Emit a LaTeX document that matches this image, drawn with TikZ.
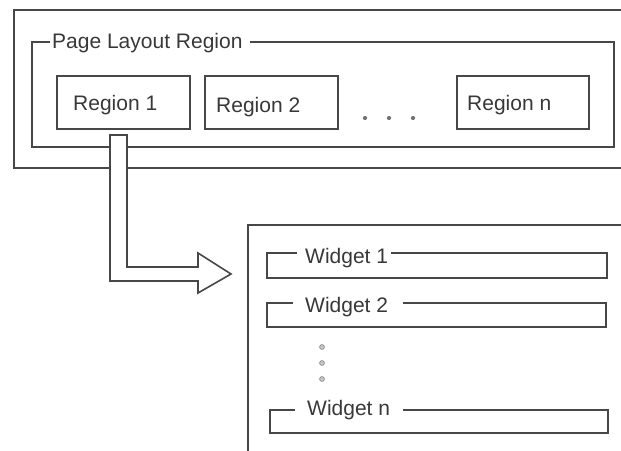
\documentclass[tikz,border=0pt]{standalone}
\usepackage{fontspec}
\setmainfont{Liberation Sans}
\begin{document}
\begin{tikzpicture}[x=1pt,y=-1pt,
  frameline/.style={draw=black!72,line width=1.6pt,line join=miter},
  regionbox/.style={frameline,rectangle,minimum width=133pt,minimum height=53pt,inner sep=0pt},
  lbl/.style={anchor=base west,inner sep=0pt,text=black!78,font=\fontsize{21}{25}\selectfont},
  hdot/.style={circle,fill=black!55,inner sep=0pt,minimum size=4.2pt},
  vdot/.style={circle,draw=black!45,fill=black!22,line width=0.7pt,inner sep=0pt,minimum size=4.8pt}]
\useasboundingbox (0,0) rectangle (621,450);

% outer window
\draw[frameline] (630,10) -- (14,10) -- (14,168) -- (630,168);

% page layout fieldset
\draw[frameline] (50,42) -- (32,42) -- (32,147) -- (614,147) -- (614,42) -- (250,42);
\node[lbl] (plr) at (52,48) {Page Layout Region};

% regions
\node[regionbox] (r1) at (123.5,102.5) {};
\node[regionbox] (r2) at (271.5,102.5) {};
\node[regionbox,minimum width=132pt] (rn) at (523,102.5) {};
\node[lbl] (r1t) at (73,110) {Region 1};
\node[lbl] (r2t) at (216,112) {Region 2};
\node[lbl] (rnt) at (467,110) {Region n};
\node[hdot] (hd1) at (365,118) {};
\node[hdot] (hd2) at (389,118) {};
\node[hdot] (hd3) at (413,118) {};

% widget panel
\draw[frameline] (630,225) -- (248,225) -- (248,460);

% widget fieldsets
\draw[frameline] (297,253) -- (267,253) -- (267,278) -- (607,278) -- (607,253) -- (391,253);
\node[lbl] (w1) at (305,263) {Widget 1};
\draw[frameline] (293,303) -- (267,303) -- (267,327) -- (606,327) -- (606,303) -- (403,303);
\node[lbl] (w2) at (305,312) {Widget 2};
\node[vdot] (vd1) at (322,347) {};
\node[vdot] (vd2) at (322,363) {};
\node[vdot] (vd3) at (322,379) {};
\draw[frameline] (295,410) -- (270,410) -- (270,433) -- (608,433) -- (608,410) -- (403,410);
\node[lbl] (wn) at (307,415) {Widget n};

% block arrow from Region 1 down and across to the widget panel
\coordinate (shaftTop) at (r1.south);
\draw[frameline,fill=white]
  (110,135) -- (127,135) -- (127,267) -- (198,267) -- (198,253)
  -- (231,274) -- (198,293) -- (198,281) -- (110,281) -- cycle;
\end{tikzpicture}
\end{document}
